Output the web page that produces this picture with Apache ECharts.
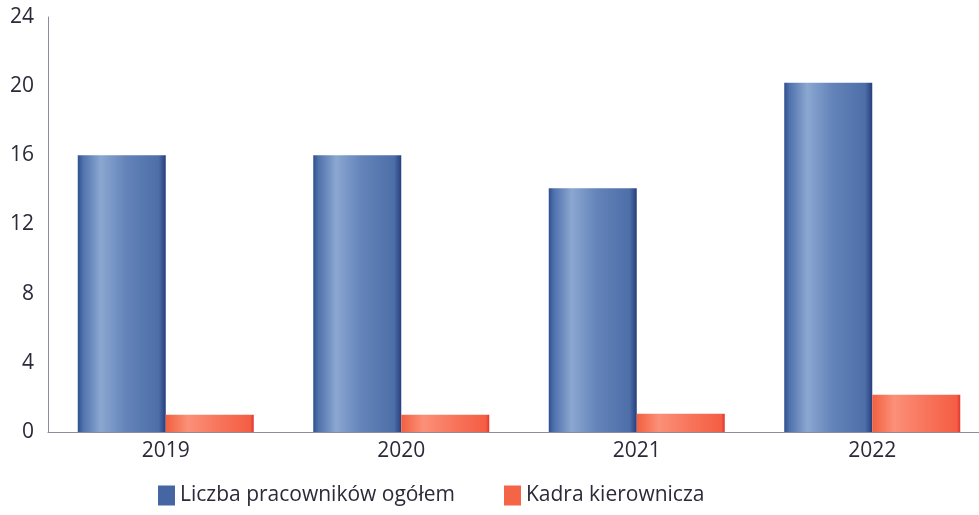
<!DOCTYPE html>
<html>
<head>
<meta charset="utf-8">
<script src="https://cdn.jsdelivr.net/npm/echarts@6/dist/echarts.min.js"></script>
<style>
  html, body { margin: 0; padding: 0; background: #ffffff; overflow: hidden; }
  /* the plot runs a little past the right edge of the page */
  #chart { width: 990px; height: 515px; }
</style>
</head>
<body>
<div id="chart"></div>
<script>
// Headcount by year: total employees and management staff
const years = ['2019', '2020', '2021', '2022'];
const totalEmployees = [16, 16, 14.1, 20.2];
const management = [1, 1, 1.05, 2.15];
const yTicks = [0, 4, 8, 12, 16, 20, 24];

// Cylinder-like shading across each bar
const blueFill = new echarts.graphic.LinearGradient(0, 0, 1, 0, [
  { offset: 0, color: '#2f4f8f' },
  { offset: 0.06, color: '#5072ad' },
  { offset: 0.26, color: '#8ba7d1' },
  { offset: 0.55, color: '#6383b9' },
  { offset: 0.92, color: '#4d6ea8' },
  { offset: 1, color: '#263f7c' }
]);
const orangeFill = new echarts.graphic.LinearGradient(0, 0, 1, 0, [
  { offset: 0, color: '#f2603f' },
  { offset: 0.25, color: '#fb9078' },
  { offset: 0.6, color: '#f8755c' },
  { offset: 0.96, color: '#f45e44' },
  { offset: 1, color: '#e03434' }
]);

const fontFamily = 'Open Sans, DejaVu Sans, sans-serif';
const textColor = '#2a2a3a';

const chart = echarts.init(document.getElementById('chart'));
chart.setOption({
  animation: false,
  backgroundColor: '#ffffff',
  textStyle: { fontFamily: fontFamily },
  grid: { left: 48, right: 0, top: 17, bottom: 83, containLabel: false },
  legend: {
    top: 485,
    left: 158,
    padding: 0,
    itemWidth: 17,
    itemHeight: 20,
    itemGap: 49,
    textStyle: { fontSize: 21, color: textColor, fontFamily: fontFamily },
    data: [
      { name: 'Liczba pracowników ogółem', icon: 'rect', itemStyle: { color: '#4566a2' } },
      { name: 'Kadra kierownicza', icon: 'rect', itemStyle: { color: '#f46548' } }
    ]
  },
  xAxis: {
    type: 'category',
    data: years,
    axisLine: { show: true, lineStyle: { color: '#8c8c9c', width: 1 } },
    axisTick: { show: false },
    axisLabel: { fontSize: 21, color: textColor, margin: 9 }
  },
  yAxis: {
    type: 'value',
    min: yTicks[0],
    max: yTicks[yTicks.length - 1],
    interval: 4,
    axisLine: { show: true, lineStyle: { color: '#8c8c9c', width: 1 } },
    axisTick: { show: false },
    splitLine: { show: false },
    axisLabel: { fontSize: 21, color: textColor, margin: 14 }
  },
  series: [
    {
      name: 'Liczba pracowników ogółem',
      type: 'bar',
      data: totalEmployees,
      barWidth: 88,
      barGap: '0%',
      itemStyle: { color: blueFill }
    },
    {
      name: 'Kadra kierownicza',
      type: 'bar',
      data: management,
      barWidth: 88,
      itemStyle: { color: orangeFill }
    }
  ]
});
</script>
</body>
</html>
